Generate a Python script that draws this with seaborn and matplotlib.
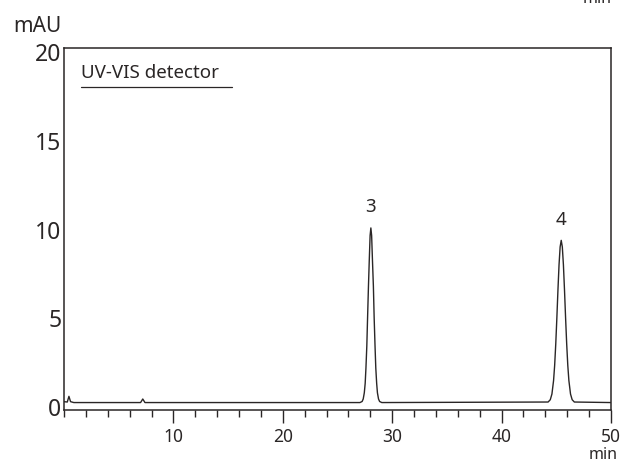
#!/usr/bin/env python
"""UV-VIS detector chromatogram"""
import matplotlib
matplotlib.use('Agg')
import matplotlib.pyplot as plt
import numpy as np
import pandas as pd
import seaborn as sns

sns.set_style('ticks')
plt.rcParams['font.family'] = ['Noto Sans', 'DejaVu Sans']

# trace (retention time in min, signal in mAU)
time_min = [0.0, 0.3, 0.45, 0.6, 0.9, 7.0, 7.2, 7.4,
            27.05, 27.25, 27.35, 27.45, 27.53, 27.6, 27.68, 27.75, 27.83,
            27.9, 27.98, 28.05, 28.12, 28.2, 28.28, 28.35, 28.43, 28.5,
            28.58, 28.65, 28.75, 28.85, 29.05,
            44.25, 44.45, 44.6, 44.75, 44.85, 44.95, 45.05, 45.15, 45.25,
            45.35, 45.45, 45.55, 45.65, 45.75, 45.85, 45.95, 46.05, 46.15,
            46.3, 46.45, 46.65,
            50.0]
signal_mau = [0.3, 0.28, 0.6, 0.3, 0.25, 0.25, 0.45, 0.25,
              0.25, 0.31, 0.45, 0.8, 1.33, 2.2, 3.45, 5.05, 6.82,
              8.2, 9.67, 10.1, 9.67, 8.2, 6.82, 5.05, 3.45, 2.2,
              1.33, 0.8, 0.45, 0.31, 0.25,
              0.28, 0.41, 0.73, 1.49, 2.35, 3.55, 5.01, 6.59, 8.02,
              9.03, 9.4, 9.03, 8.02, 6.59, 5.01, 3.55, 2.35, 1.49,
              0.73, 0.41, 0.28,
              0.25]

peak_labels = ['3', '4']
peak_times = [28.05, 45.45]
peak_label_heights = [11.3, 10.55]

df = pd.DataFrame({'time': time_min, 'signal': signal_mau})

fig = plt.figure(figsize=(6.2, 4.63), dpi=100)
ax = fig.add_axes([64 / 620, 1 - 410 / 463, 547 / 620, 362 / 463])

sns.lineplot(data=df, x='time', y='signal', ax=ax, color='#2a2626',
             linewidth=1.0, sort=False)

ax.set_xlim(0, 50)
ax.set_ylim(-0.17, 20.25)
ax.set_xticks([10, 20, 30, 40, 50])
ax.set_xticks(np.arange(0, 51, 2), minor=True)
ax.set_yticks([0, 5, 10, 15, 20])
ax.tick_params(axis='x', which='major', direction='out', length=9, width=1,
               labelsize=12.5, pad=4, colors='#2a2626')
ax.tick_params(axis='x', which='minor', direction='out', length=5, width=1,
               colors='#2a2626')
ax.tick_params(axis='y', length=0, labelsize=16.5, pad=2, colors='#2a2626')
for sp in ax.spines.values():
    sp.set_visible(True)
    sp.set_linewidth(1.1)
    sp.set_color('#2a2626')
ax.set_xlabel('')
ax.set_ylabel('')

# peak numbers
for lab, t, h in zip(peak_labels, peak_times, peak_label_heights):
    ax.text(t, h, lab, fontsize=13.5, ha='center', va='center', color='#2a2626')

# detector label with underline
ax.text(0.031, 0.931, 'UV-VIS detector', fontsize=13.5, ha='left', va='center',
        transform=ax.transAxes, color='#2a2626')
ax.plot([0.031, 0.307], [0.893, 0.893], transform=ax.transAxes,
        color='#2a2626', linewidth=0.9)

# axis units
fig.text(37 / 620, 1 - 27 / 463, 'mAU', fontsize=15, ha='center', va='center',
         color='#2a2626')
fig.text(603 / 620, 1 - 455 / 463, 'min', fontsize=11.5, ha='center',
         va='center', color='#2a2626')
fig.text(597 / 620, 1 - 3 / 463, 'min', fontsize=11.5, ha='center',
         va='baseline', color='#2a2626')

fig.savefig('out.png', dpi=100)
plt.close()
